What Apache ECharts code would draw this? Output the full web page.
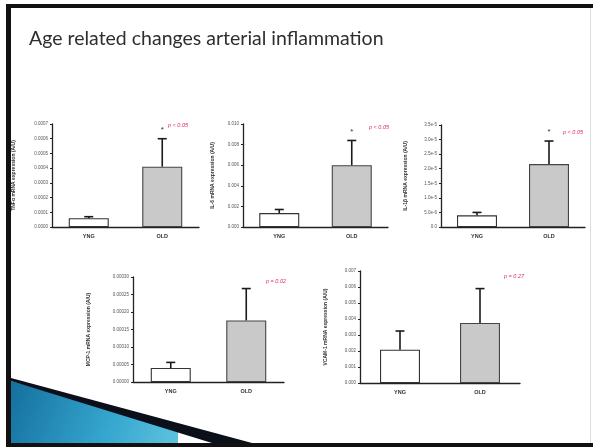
<!DOCTYPE html>
<html>
<head>
<meta charset="utf-8">
<script src="https://cdn.jsdelivr.net/npm/echarts@6/dist/echarts.min.js"></script>
<style>
  html, body { margin: 0; padding: 0; background: #fff; }
  #chart { width: 593px; height: 447px; }
</style>
</head>
<body>
<div id="chart"></div>
<script>
const categories = ["YNG", "OLD"]

// bar means and upper error (SEM) per panel
const tnfMean = [0.00006, 0.00041]
const tnfErr = [0.00001, 0.00019]
const il6Mean = [0.00135, 0.0060]
const il6Err = [0.00035, 0.0024]
const il1Mean = [0.0000040, 0.0000216]
const il1Err = [0.0000010, 0.0000079]
const mcpMean = [0.000040, 0.000176]
const mcpErr = [0.000016, 0.000091]
const vcamMean = [0.00208, 0.00375]
const vcamErr = [0.00117, 0.00215]

const tnfTicks = ["0.0000", "0.0001", "0.0002", "0.0003", "0.0004", "0.0005", "0.0006", "0.0007"]
const il6Ticks = ["0.000", "0.002", "0.004", "0.006", "0.008", "0.010"]
const il1Ticks = ["0.0", "5.0e-6", "1.0e-5", "1.5e-5", "2.0e-5", "2.5e-5", "3.0e-5", "3.5e-5"]
const mcpTicks = ["0.00000", "0.00005", "0.00010", "0.00015", "0.00020", "0.00025", "0.00030"]
const vcamTicks = ["0.000", "0.001", "0.002", "0.003", "0.004", "0.005", "0.006", "0.007"]

const pTexts = ["p < 0.05", "p < 0.05", "p < 0.05", "p = 0.02", "p = 0.27"]
const starred = [true, true, true, false, false]

const panels = [
  { name: "TNFα mRNA expression (A/U)", mean: tnfMean, err: tnfErr, ticks: tnfTicks, step: 0.0001,
    grid: { left: 52, top: 124, width: 147, height: 103 }, nameGap: 36, pPos: [182, 125] },
  { name: "IL-6 mRNA expression (A/U)", mean: il6Mean, err: il6Err, ticks: il6Ticks, step: 0.002,
    grid: { left: 243, top: 124, width: 145, height: 103 }, nameGap: 28, pPos: [383, 127] },
  { name: "IL-1β mRNA expression (A/U)", mean: il1Mean, err: il1Err, ticks: il1Ticks, step: 0.000005,
    grid: { left: 441, top: 125, width: 144, height: 102 }, nameGap: 33, pPos: [577, 132] },
  { name: "MCP-1 mRNA expression (A/U)", mean: mcpMean, err: mcpErr, ticks: mcpTicks, step: 0.00005,
    grid: { left: 133, top: 277, width: 151, height: 105 }, nameGap: 42, pPos: [280, 281] },
  { name: "VCAM-1 mRNA expression (A/U)", mean: vcamMean, err: vcamErr, ticks: vcamTicks, step: 0.001,
    grid: { left: 360, top: 271, width: 160, height: 112 }, nameGap: 32, pPos: [518, 276] }
]

const chart = echarts.init(document.getElementById("chart"), null, { renderer: "canvas" })

const grids = panels.map((p) => p.grid)

const xAxes = panels.map((p, i) => ({
  type: "category",
  gridIndex: i,
  data: categories,
  axisLine: { lineStyle: { color: "#222", width: 1.3 } },
  axisTick: { show: false },
  axisLabel: { color: "#333", fontSize: 5.5, fontWeight: "bold", margin: 6, fontFamily: "Liberation Sans" }
}))

const yAxes = panels.map((p, i) => ({
  type: "value",
  gridIndex: i,
  min: 0,
  max: p.step * (p.ticks.length - 1),
  interval: p.step,
  name: p.name,
  nameLocation: "middle",
  nameGap: p.nameGap,
  nameTextStyle: { color: "#333", fontSize: 5, fontWeight: "bold", fontFamily: "Liberation Sans" },
  axisLine: { show: true, lineStyle: { color: "#222", width: 1.3 } },
  axisTick: { show: true, length: 2, lineStyle: { color: "#222" } },
  splitLine: { show: false },
  axisLabel: {
    color: "#555",
    fontSize: 4.5,
    margin: 4,
    fontFamily: "Liberation Sans",
    formatter: (v) => p.ticks[Math.round(v / p.step)] || ""
  }
}))

const barSeries = panels.map((p, i) => ({
  type: "bar",
  xAxisIndex: i,
  yAxisIndex: i,
  barWidth: 40,
  animation: false,
  data: p.mean.map((v, k) => ({
    value: v,
    itemStyle: {
      color: k === 0 ? "#ffffff" : "#c9c9c9",
      borderColor: k === 0 ? "#333" : "#444",
      borderWidth: 1.1
    }
  }))
}))

const errSeries = panels.map((p, i) => ({
  type: "custom",
  xAxisIndex: i,
  yAxisIndex: i,
  z: 5,
  animation: false,
  data: p.mean.map((v, k) => [k, v, v + p.err[k], starred[i] && k === 1 ? 1 : 0]),
  renderItem: (params, api) => {
    const base = api.coord([api.value(0), api.value(1)])
    const top = api.coord([api.value(0), api.value(2)])
    const style = { stroke: "#1a1a1a", lineWidth: 1.6 }
    const children = [
      { type: "line", shape: { x1: base[0], y1: base[1], x2: top[0], y2: top[1] }, style },
      { type: "line", shape: { x1: top[0] - 4.5, y1: top[1], x2: top[0] + 4.5, y2: top[1] }, style }
    ]
    if (api.value(3)) {
      children.push({
        type: "text",
        style: { text: "*", x: top[0], y: top[1] - 13, align: "center", fill: "#333", fontSize: 8 }
      })
    }
    return { type: "group", children }
  }
}))

const pLabels = panels.map((p, i) => ({
  type: "text",
  left: p.pPos[0] - 14,
  top: p.pPos[1] - 3,
  style: { text: pTexts[i], fill: "#e0306a", fontSize: 5.5, fontStyle: "italic", fontFamily: "Liberation Sans" }
}))

const frame = [
  { type: "rect", shape: { x: 0, y: 0, width: 593, height: 447 }, style: { fill: "#fff" }, z: -10 },
  { type: "rect", shape: { x: 6, y: 4, width: 587, height: 4 }, style: { fill: "#111" } },
  { type: "rect", shape: { x: 6, y: 4, width: 5, height: 443 }, style: { fill: "#111" } },
  { type: "rect", shape: { x: 6, y: 443, width: 587, height: 4 }, style: { fill: "#111" } },
  { type: "rect", shape: { x: 590, y: 8, width: 1, height: 435 }, style: { fill: "#ddd" } },
  {
    type: "polygon",
    shape: { points: [[11, 381], [178, 428], [178, 443], [11, 443]] },
    style: {
      fill: new echarts.graphic.LinearGradient(0, 0, 1, 1, [
        { offset: 0, color: "#156f9e" },
        { offset: 0.6, color: "#35a6cf" },
        { offset: 1, color: "#5cc3dd" }
      ])
    }
  },
  {
    type: "polygon",
    shape: { points: [[11, 378], [252, 443], [212, 443], [11, 381]] },
    style: { fill: "#0b0f1a" }
  }
]

chart.setOption({
  backgroundColor: "#fff",
  animation: false,
  title: {
    text: "Age related changes arterial inflammation",
    left: 24,
    top: 24,
    textStyle: { color: "#2e2e2e", fontSize: 19.5, fontWeight: "normal", fontFamily: "Lato" }
  },
  graphic: frame.concat(pLabels),
  grid: grids,
  xAxis: xAxes,
  yAxis: yAxes,
  series: barSeries.concat(errSeries)
})
</script>
</body>
</html>
